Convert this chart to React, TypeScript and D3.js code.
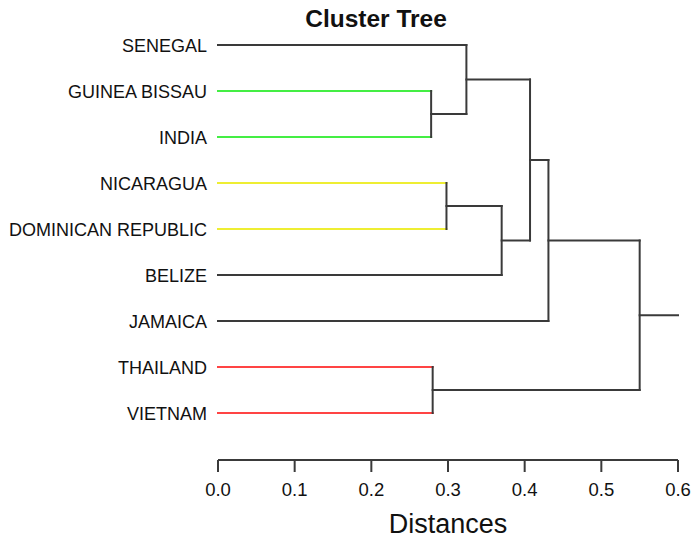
import React from "react";
import * as d3 from "d3";

const leaves = [
  "SENEGAL",
  "GUINEA BISSAU",
  "INDIA",
  "NICARAGUA",
  "DOMINICAN REPUBLIC",
  "BELIZE",
  "JAMAICA",
  "THAILAND",
  "VIETNAM",
];

// leaf colors (cluster highlight); null = default dark
const leafColors: (string | null)[] = [
  null,
  "#44ee44",
  "#44ee44",
  "#eeee33",
  "#eeee33",
  null,
  null,
  "#ff4444",
  "#ff4444",
];

// merges: [left, right, height]; indices < 9 are leaves, >= 9 are earlier merges (9 + k)
const mergeLeft = [1, 0, 3, 11, 10, 13, 7, 14];
const mergeRight = [2, 9, 4, 5, 12, 6, 8, 15];
const mergeHeight = [0.278, 0.324, 0.298, 0.370, 0.407, 0.431, 0.280, 0.550];

const rootEnd = 0.6;
const xTicks = [0.0, 0.1, 0.2, 0.3, 0.4, 0.5, 0.6];

export default function App() {
  const W = 693;
  const H = 540;
  const x = d3.scaleLinear().domain([0, 0.6]).range([218, 678]);
  const y = d3.scalePoint<string>().domain(leaves).range([45, 413]);
  const dark = "#3a3a3a";

  const nodeX: number[] = [];
  const nodeY: number[] = [];
  leaves.forEach((l, i) => {
    nodeX[i] = x(0);
    nodeY[i] = y(l)!;
  });
  const segs: { x1: number; y1: number; x2: number; y2: number; c: string }[] = [];
  mergeHeight.forEach((h, k) => {
    const a = mergeLeft[k];
    const b = mergeRight[k];
    const mx = x(h);
    const ya = nodeY[a];
    const yb = nodeY[b];
    const ca = a < leaves.length && leafColors[a] ? leafColors[a]! : dark;
    const cb = b < leaves.length && leafColors[b] ? leafColors[b]! : dark;
    segs.push({ x1: nodeX[a], y1: ya, x2: mx, y2: ya, c: ca });
    segs.push({ x1: nodeX[b], y1: yb, x2: mx, y2: yb, c: cb });
    segs.push({ x1: mx, y1: ya, x2: mx, y2: yb, c: dark });
    nodeX[leaves.length + k] = mx;
    nodeY[leaves.length + k] = (ya + yb) / 2;
  });
  const rootIdx = leaves.length + mergeHeight.length - 1;
  segs.push({
    x1: nodeX[rootIdx],
    y1: nodeY[rootIdx],
    x2: x(rootEnd),
    y2: nodeY[rootIdx],
    c: dark,
  });

  const axisY = 460;
  const font = "Liberation Sans, Arial, Helvetica, sans-serif";

  return (
    <svg
      width={W}
      height={H}
      style={{ position: "fixed", left: 0, top: 0, background: "#fff" }}
      fontFamily={font}
    >
      <rect width={W} height={H} fill="#fff" />
      <text x={376} y={27} textAnchor="middle" fontSize={24.5} fontWeight="bold" fill="#111">
        Cluster Tree
      </text>
      {segs.map((s, i) => (
        <line
          key={i}
          x1={s.x1}
          y1={s.y1}
          x2={s.x2}
          y2={s.y2}
          stroke={s.c}
          strokeWidth={2}
          strokeLinecap="square"
        />
      ))}
      {leaves.map((l) => (
        <text key={l} x={207} y={y(l)! + 6.5} textAnchor="end" fontSize={18} fill="#111">
          {l}
        </text>
      ))}
      <line x1={x(0)} x2={x(0.6)} y1={axisY} y2={axisY} stroke={dark} strokeWidth={2} />
      {xTicks.map((t) => (
        <g key={t}>
          <line x1={x(t)} x2={x(t)} y1={axisY} y2={axisY + 12} stroke={dark} strokeWidth={2} />
          <text x={x(t)} y={496} textAnchor="middle" fontSize={18.5} fill="#111">
            {d3.format(".1f")(t)}
          </text>
        </g>
      ))}
      <text x={448} y={533} textAnchor="middle" fontSize={27} fill="#111">
        Distances
      </text>
    </svg>
  );
}
